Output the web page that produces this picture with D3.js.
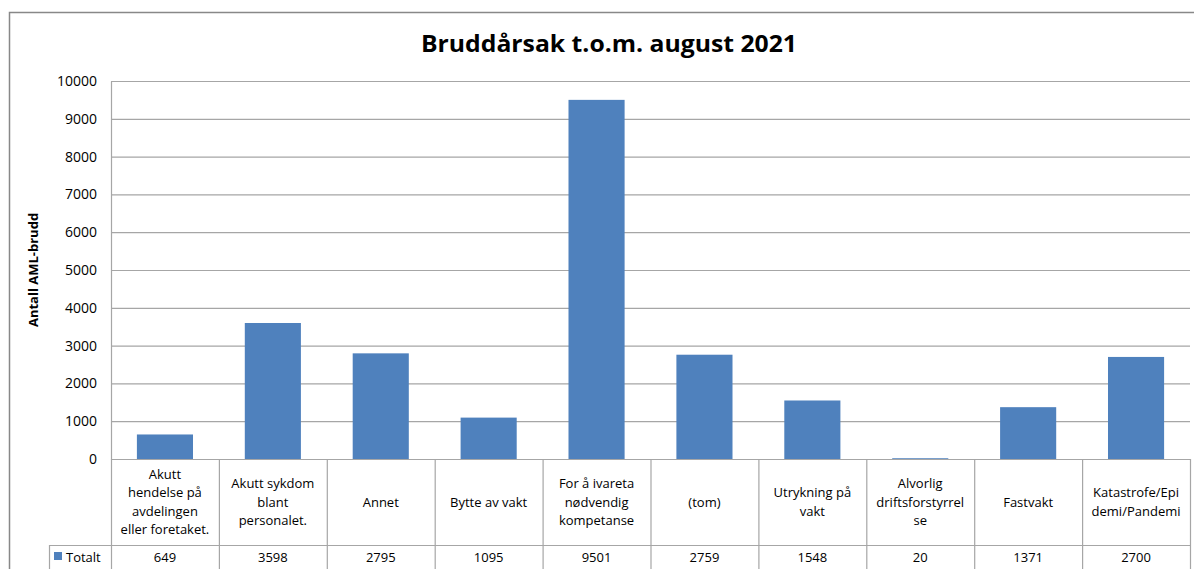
<!DOCTYPE html>
<html><head><meta charset="utf-8">
<script src="https://cdn.jsdelivr.net/npm/d3@7"></script>
<style>body{margin:0;background:#fff}svg{display:block}text{font-family:"Open Sans",sans-serif}</style>
</head><body><svg id="c" width="1194" height="569"></svg>
<script>
const categories = [
  "Akutt\nhendelse på\navdelingen\neller foretaket.",
  "Akutt sykdom\nblant\npersonalet.",
  "Annet",
  "Bytte av vakt",
  "For å ivareta\nnødvendig\nkompetanse",
  "(tom)",
  "Utrykning på\nvakt",
  "Alvorlig\ndriftsforstyrrel\nse",
  "Fastvakt",
  "Katastrofe/Epi\ndemi/Pandemi"
];
const values = [649, 3598, 2795, 1095, 9501, 2759, 1548, 20, 1371, 2700];
const yTicks = [0,1000,2000,3000,4000,5000,6000,7000,8000,9000,10000];
const seriesName = "Totalt";
const title = "Bruddårsak t.o.m. august 2021";
const yLabel = "Antall AML-brudd";

const svg = d3.select("#c");
const L = 111, R = 1190, T = 81, B = 459;
const x = d3.scaleBand().domain(d3.range(categories.length)).range([L, R]).paddingInner(0.48).paddingOuter(0.24);
const y = d3.scaleLinear().domain([0, 10000]).range([B, T]);
const gridColor = "#a6a6a6";

// frame
svg.append("rect").attr("x", 9.5).attr("y", 12.5).attr("width", 1200).attr("height", 600)
  .attr("fill", "none").attr("stroke", "#888").attr("stroke-width", 1.5);

// title
svg.append("text").attr("x", 609).attr("y", 52).attr("text-anchor", "middle")
  .attr("font-size", 24).attr("font-weight", "bold").attr("fill", "#000")
  .attr("textLength", 376).attr("lengthAdjust", "spacingAndGlyphs").text(title);

// gridlines
svg.append("g").selectAll("line").data(yTicks.filter(d => d > 0)).join("line")
  .attr("x1", L).attr("x2", R).attr("y1", d => y(d) + 0.5).attr("y2", d => y(d) + 0.5)
  .attr("stroke", gridColor).attr("stroke-width", 1.2);

// y axis
const yAxis = d3.axisLeft(y).tickValues(yTicks).tickFormat(d3.format("d")).tickSize(0).tickPadding(14);
const gy = svg.append("g").attr("transform", `translate(${L},0)`).call(yAxis);
gy.select(".domain").attr("stroke", gridColor).attr("stroke-width", 1.2);
gy.selectAll("text").attr("font-size", 14).attr("fill", "#000").attr("font-family", "Open Sans");

svg.append("text").attr("transform", `translate(38,${(T + B) / 2}) rotate(-90)`)
  .attr("text-anchor", "middle").attr("font-size", 13).attr("font-weight", "bold").text(yLabel);

// bars
svg.append("g").selectAll("rect").data(values).join("rect")
  .attr("x", (d, i) => x(i)).attr("width", x.bandwidth())
  .attr("y", d => y(d)).attr("height", d => B - y(d)).attr("fill", "#4f81bd");

// data table
const colW = (R - L) / categories.length;
const rowTop = B, rowMid = 545, rowBot = 600;
const tg = svg.append("g").attr("stroke", gridColor).attr("stroke-width", 1.2);
tg.append("line").attr("x1", L).attr("x2", R).attr("y1", rowTop + 0.5).attr("y2", rowTop + 0.5);
tg.append("line").attr("x1", 49).attr("x2", R).attr("y1", rowMid + 0.5).attr("y2", rowMid + 0.5);
tg.append("line").attr("x1", 49.5).attr("x2", 49.5).attr("y1", rowMid).attr("y2", rowBot);
tg.selectAll(".v").data(d3.range(categories.length + 1)).join("line")
  .attr("x1", i => L + i * colW + 0.5).attr("x2", i => L + i * colW + 0.5)
  .attr("y1", rowTop).attr("y2", rowBot);

const lh = 18.5;
categories.forEach((c, i) => {
  const lines = c.split("\n");
  const cx = L + (i + 0.5) * colW;
  const cy = (rowTop + rowMid) / 2;
  const t = svg.append("text").attr("text-anchor", "middle").attr("font-size", 13).attr("fill", "#000");
  lines.forEach((ln, j) => {
    t.append("tspan").attr("x", cx).attr("y", cy + (j - (lines.length - 1) / 2) * lh + 4.5).text(ln);
  });
  svg.append("text").attr("x", cx).attr("y", 562).attr("text-anchor", "middle")
    .attr("font-size", 13).attr("fill", "#000").text(values[i]);
});

// legend key
svg.append("rect").attr("x", 54).attr("y", 552).attr("width", 8).attr("height", 8).attr("fill", "#4f81bd");
svg.append("text").attr("x", 66).attr("y", 562).attr("font-size", 13).attr("fill", "#000").text(seriesName);
</script></body></html>
